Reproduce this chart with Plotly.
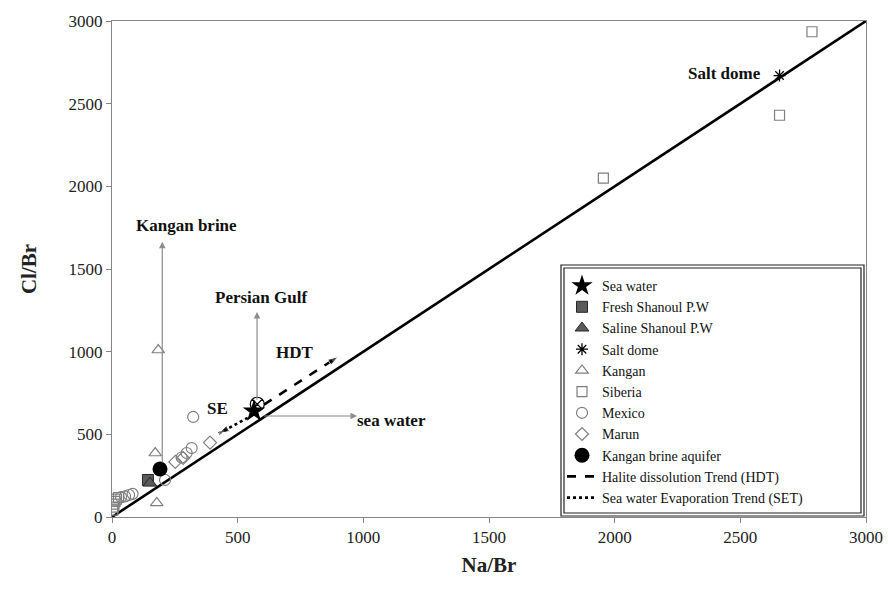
import plotly.graph_objects as go

# ---- data (Na/Br, Cl/Br) ----
sea_water_x = [565]
sea_water_y = [640]

persian_gulf_x = [578]
persian_gulf_y = [682]

fresh_shanoul_x = [143]
fresh_shanoul_y = [224]

saline_shanoul_x = [151]
saline_shanoul_y = [205]

salt_dome_x = [2656]
salt_dome_y = [2670]

kangan_x = [184, 172, 178]
kangan_y = [1010, 387, 85]

siberia_x = [2785, 2656, 1955, 3, 5, 8, 12, 18, 26]
siberia_y = [2935, 2430, 2050, 42, 60, 78, 95, 108, 118]

mexico_x = [323, 317, 297, 277, 211, 36, 52, 68, 82]
mexico_y = [605, 417, 387, 360, 224, 121, 125, 133, 140]

marun_x = [390, 252, 283]
marun_y = [450, 333, 357]

brine_aquifer_x = [191]
brine_aquifer_y = [290]

one_to_one_x = [0, 3000]
one_to_one_y = [0, 3000]

hdt_x = [605, 900]
hdt_y = [680, 970]

set_x = [540, 425]
set_y = [600, 505]

tick_vals = [0, 500, 1000, 1500, 2000, 2500, 3000]

SERIF = "Times New Roman, Liberation Serif, Tinos, serif"
GRAY = "#7f7f7f"

fig = go.Figure()

# 1:1 reference line
fig.add_trace(go.Scatter(x=one_to_one_x, y=one_to_one_y, mode="lines",
                         line=dict(color="black", width=2.6),
                         showlegend=False, hoverinfo="skip"))


def open_pts(name, xs, ys, symbol, rank, size=10):
    fig.add_trace(go.Scatter(
        x=xs, y=ys, mode="markers", name=name, legendrank=rank,
        marker=dict(symbol=symbol, size=size, color=GRAY,
                    line=dict(color=GRAY, width=1.2))))


open_pts("Kangan", kangan_x, kangan_y, "triangle-up-open", 5, 11)
open_pts("Siberia", siberia_x, siberia_y, "square-open", 6, 10)
open_pts("Mexico", mexico_x, mexico_y, "circle-open", 7, 11)
open_pts("Marun", marun_x, marun_y, "diamond-open", 8, 10)

fig.add_trace(go.Scatter(
    x=fresh_shanoul_x, y=fresh_shanoul_y, mode="markers",
    name="Fresh Shanoul P.W", legendrank=2,
    marker=dict(symbol="square", size=11, color="#5a5a5a",
                line=dict(color="#262626", width=1))))
fig.add_trace(go.Scatter(
    x=saline_shanoul_x, y=saline_shanoul_y, mode="markers",
    name="Saline Shanoul P.W", legendrank=3,
    marker=dict(symbol="triangle-up", size=12, color="#5a5a5a",
                line=dict(color="#262626", width=1))))
fig.add_trace(go.Scatter(
    x=brine_aquifer_x, y=brine_aquifer_y, mode="markers",
    name="Kangan brine aquifer", legendrank=9,
    marker=dict(symbol="circle", size=15, color="black")))
fig.add_trace(go.Scatter(
    x=salt_dome_x, y=salt_dome_y, mode="markers",
    name="Salt dome", legendrank=4,
    marker=dict(symbol="asterisk-open", size=10, color="black",
                line=dict(color="black", width=1.3))))
fig.add_trace(go.Scatter(
    x=persian_gulf_x, y=persian_gulf_y, mode="markers", showlegend=False,
    marker=dict(symbol="circle-x-open", size=14, color="black",
                line=dict(color="black", width=1.2))))
fig.add_trace(go.Scatter(
    x=sea_water_x, y=sea_water_y, mode="markers",
    name="Sea water", legendrank=1,
    marker=dict(symbol="star", size=17, color="black")))

# trend lines with arrowheads
fig.add_trace(go.Scatter(
    x=hdt_x, y=hdt_y, mode="lines", name="Halite dissolution Trend (HDT)",
    legendrank=10, legendgroup="hdt",
    line=dict(color="black", width=2.6, dash="dash")))
fig.add_trace(go.Scatter(
    x=hdt_x, y=hdt_y, mode="markers", legendgroup="hdt", showlegend=False,
    marker=dict(symbol="arrow", angleref="previous", size=[0, 11],
                color="black")))
fig.add_trace(go.Scatter(
    x=set_x, y=set_y, mode="lines", name="Sea water Evaporation Trend (SET)",
    legendrank=11, legendgroup="set",
    line=dict(color="black", width=2.6, dash="dot")))
fig.add_trace(go.Scatter(
    x=set_x, y=set_y, mode="markers", legendgroup="set", showlegend=False,
    marker=dict(symbol="arrow", angleref="previous", size=[0, 11],
                color="black")))

# gray pointer arrows and bold labels
pointers = [  # (tail x, tail y, head x, head y)
    (200, 320, 200, 1665),
    (577, 700, 577, 1240),
    (600, 611, 975, 611),
]
for tx, ty, hx, hy in pointers:
    fig.add_annotation(x=hx, y=hy, ax=tx, ay=ty, xref="x", yref="y",
                       axref="x", ayref="y", text="", showarrow=True,
                       arrowhead=2, arrowsize=1.1, arrowwidth=1.2,
                       arrowcolor="#8c8c8c")

labels = [  # (text, x, y, xanchor)
    ("Kangan brine", 298, 1766, "center"),
    ("Persian Gulf", 593, 1325, "center"),
    ("HDT", 728, 992, "center"),
    ("SE", 418, 659, "center"),
    ("sea water", 967, 581, "left"),
    ("Salt dome", 2590, 2680, "right"),
]
for txt, lx, ly, anc in labels:
    fig.add_annotation(x=lx, y=ly, xref="x", yref="y", text=f"<b>{txt}</b>",
                       showarrow=False, xanchor=anc, yanchor="middle",
                       font=dict(family=SERIF, size=17, color="#111"))

# legend frame (double border)
L, R, T, B = 112, 866, 21, 517


def px_x(p):
    return (p - L) / (R - L)


def px_y(p):
    return (B - p) / (B - T)


for (x0, y0, x1, y1) in [(561, 265, 864, 516), (564, 268, 861, 513)]:
    fig.add_shape(type="rect", xref="paper", yref="paper",
                  x0=px_x(x0), x1=px_x(x1), y0=px_y(y1), y1=px_y(y0),
                  line=dict(color="#222", width=1.2), fillcolor="white",
                  layer="below")

axis_common = dict(
    range=[0, 3000], tickvals=tick_vals, ticks="outside", ticklen=5,
    tickcolor="#868686", showline=True, linecolor="#868686", linewidth=1,
    mirror=True, showgrid=False, zeroline=False, automargin=False,
    tickfont=dict(family=SERIF, size=17, color="#222"),
)

fig.update_layout(
    width=888, height=590,
    margin=dict(l=L, r=888 - R, t=T, b=590 - B),
    paper_bgcolor="white", plot_bgcolor="white",
    xaxis=dict(**axis_common,
               title=dict(text="<b>Na/Br</b>", standoff=10,
                          font=dict(family=SERIF, size=21, color="#222"))),
    yaxis=dict(**axis_common,
               title=dict(text="<b>Cl/Br</b>", standoff=26,
                          font=dict(family=SERIF, size=21, color="#222"))),
    legend=dict(x=px_x(562), y=px_y(270), xanchor="left", yanchor="top",
                bgcolor="rgba(0,0,0,0)", borderwidth=0,
                font=dict(family=SERIF, size=14, color="#111"),
                tracegroupgap=0),
    showlegend=True,
)

fig.write_html("out.html")
